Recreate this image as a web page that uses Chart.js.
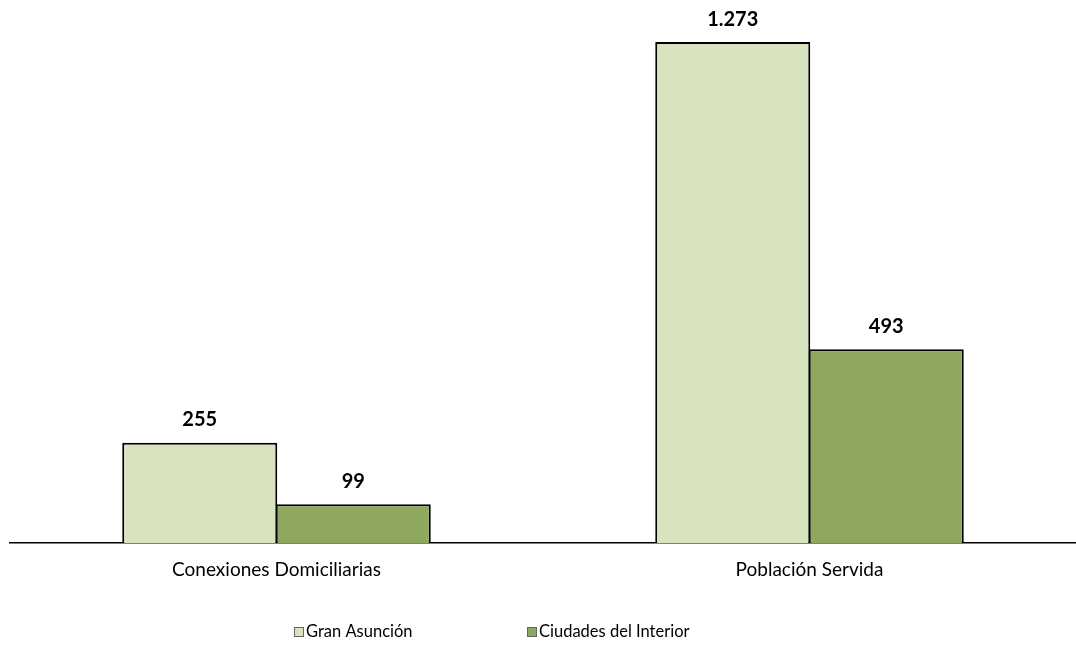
<!DOCTYPE html>
<html>
<head>
<meta charset="utf-8">
<script src="https://cdn.jsdelivr.net/npm/chart.js@4"></script>
<style>
  html, body { margin: 0; padding: 0; background: #fff; }
  #wrap { width: 1076px; height: 647px; }
</style>
</head>
<body>
<div id="wrap"><canvas id="grafico"></canvas></div>
<script>
const categorias = ["Conexiones Domiciliarias", "Población Servida"];
const series = ["Gran Asunción", "Ciudades del Interior"];
const granAsuncion = [255, 1273];
const ciudadesInterior = [99, 493];
const cores = ["#D7E4BD", "#8FA85F"];

const fonte = "Lato, 'Open Sans', sans-serif";

// rotulos em negrito acima das barras
const rotulos = {
  id: "rotulos",
  afterDatasetsDraw(chart) {
    const ctx = chart.ctx;
    ctx.save();
    ctx.font = "bold 20px " + fonte;
    ctx.fillStyle = "#000";
    ctx.textAlign = "center";
    ctx.textBaseline = "bottom";
    chart.data.datasets.forEach((ds, i) => {
      chart.getDatasetMeta(i).data.forEach((bar, j) => {
        const v = String(ds.data[j]).replace(/\B(?=(\d{3})+(?!\d))/g, ".");
        ctx.fillText(v, bar.x, bar.y - 13);
      });
    });
    ctx.restore();
  }
};

// legenda desenhada embaixo, no estilo do excel
const legenda = {
  id: "legenda",
  afterDraw(chart) {
    const ctx = chart.ctx;
    const xs = [294, 527];
    const y = 632;
    ctx.save();
    ctx.font = "16.5px " + fonte;
    ctx.textBaseline = "middle";
    chart.data.datasets.forEach((ds, i) => {
      ctx.fillStyle = ds.backgroundColor;
      ctx.fillRect(xs[i], y - 5, 10, 10);
      ctx.strokeStyle = "#666";
      ctx.lineWidth = 1;
      ctx.strokeRect(xs[i] + 0.5, y - 4.5, 9, 9);
      ctx.fillStyle = "#000";
      ctx.fillText(ds.label, xs[i] + 12, y);
    });
    ctx.restore();
  }
};

new Chart(document.getElementById("grafico"), {
  type: "bar",
  data: {
    labels: categorias,
    datasets: [
      { label: series[0], data: granAsuncion, backgroundColor: cores[0], borderColor: "#000", borderWidth: 2 },
      { label: series[1], data: ciudadesInterior, backgroundColor: cores[1], borderColor: "#000", borderWidth: 2 }
    ]
  },
  options: {
    responsive: true,
    maintainAspectRatio: false,
    animation: false,
    layout: { padding: { left: 10, right: 0, top: 0, bottom: 59 } },
    datasets: { bar: { categoryPercentage: 0.576, barPercentage: 1.01 } },
    scales: {
      x: {
        grid: { display: false },
        border: { color: "#000", width: 1.5 },
        ticks: { color: "#000", font: { family: fonte, size: 19 }, padding: 7 }
      },
      y: {
        display: false,
        min: 0,
        max: 1380
      }
    },
    plugins: {
      legend: { display: false },
      tooltip: { enabled: false }
    }
  },
  plugins: [rotulos, legenda]
});
</script>
</body>
</html>
